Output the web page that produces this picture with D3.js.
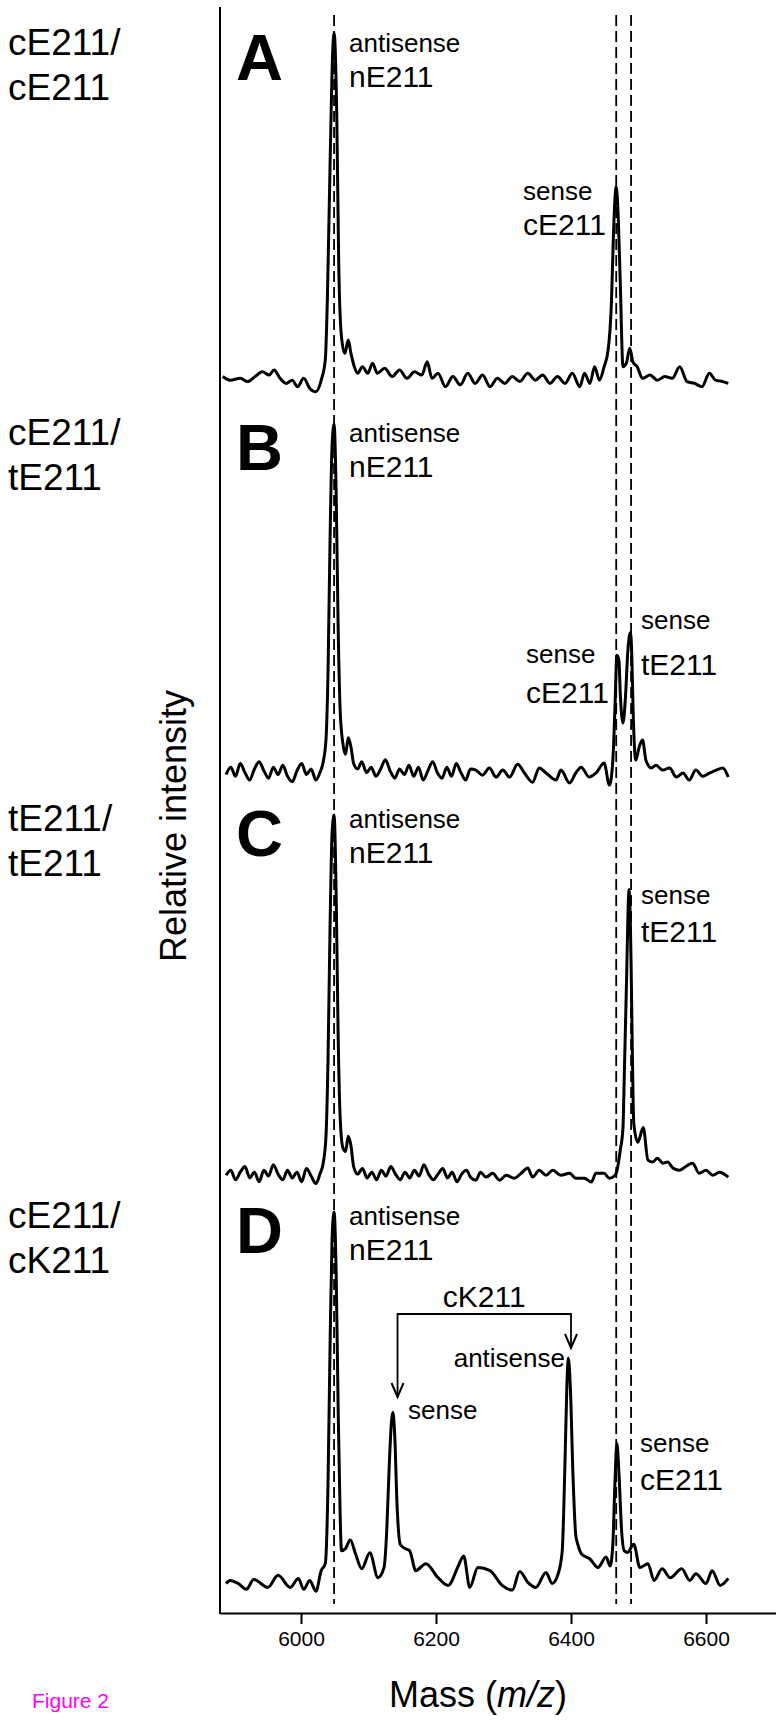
<!DOCTYPE html>
<html>
<head>
<meta charset="utf-8">
<script src="https://cdn.jsdelivr.net/npm/d3@7"></script>
<style>
    body { margin: 0; background: #fff; }
    svg text { font-family: "Liberation Sans", Arial, Helvetica, sans-serif; fill: #000; }
    .axis path, .axis line { stroke: #000; stroke-width: 2; }
    .axis text { font-size: 21px; }
    .spectrum { fill: none; stroke: #000; stroke-width: 3; stroke-linejoin: round; }
    .guide { stroke: #000; stroke-width: 1.8; stroke-dasharray: 11, 5; }
</style>
</head>
<body>
<div id="chart"></div>
<script>

// ---- data ----
const panelLetters = ["A", "B", "C", "D"];
const genotypes = [["cE211/", "cE211"], ["cE211/", "tE211"], ["tE211/", "tE211"], ["cE211/", "cK211"]];
const massTicks = [6000, 6200, 6400, 6600];
const guideMasses = [6049, 6467, 6489];
const peakLabels = [
    [["antisense", "nE211"], ["sense", "cE211"]],
    [["antisense", "nE211"], ["sense", "cE211"], ["sense", "tE211"]],
    [["antisense", "nE211"], ["sense", "tE211"]],
    [["antisense", "nE211"], ["sense", "cE211"]]
];
const cK211Labels = ["cK211", "sense", "antisense"];

// [mass, relative intensity] per panel
const spectrumA = [[5884,5.1],[5895,4.1],[5910,4.6],[5921,3.7],[5932,5.1],[5943,6.4],[5953,5.5],[5960,6.9],[5969,4.6],[5978,3.2],
    [5987,4.1],[5995,2.3],[6004,4.6],[6013,1.8],[6022,0.9],[6030,4.1],[6036,9.7],[6039,26],[6043,63],[6047,95],[6049,100],[6053,77],
    [6056,35],[6060,16],[6065,11.5],[6070,15.2],[6074,11.5],[6079,7.8],[6084,6],[6091,7.8],[6099,6],[6106,8.8],[6113,6],[6124,7.4],
    [6135,5.1],[6146,6.9],[6157,4.6],[6168,6.4],[6179,5.5],[6187,9.2],[6194,4.6],[6203,6],[6214,2.3],[6225,5.1],[6236,2.8],[6247,6],
    [6258,3.2],[6269,5.5],[6280,2.3],[6291,4.6],[6302,3.2],[6313,5.1],[6324,3.7],[6336,6],[6347,4.1],[6358,5.5],[6369,3.2],[6380,5.1],
    [6391,3.2],[6402,6],[6413,2.3],[6420,6],[6428,3.2],[6435,7.8],[6442,4.1],[6449,7.8],[6455,12.4],[6460,26],[6463,45],[6467,57.5],
    [6470,49],[6473,31],[6477,7.8],[6482,8.8],[6487,12.9],[6492,9],[6498,7.8],[6506,4.6],[6517,5.5],[6528,4.1],[6539,5.1],[6550,4.6],
    [6561,7.8],[6572,3.7],[6583,3.2],[6594,2.3],[6605,6],[6614,4.1],[6625,3.7],[6633,3.2]];

const spectrumB = [[5889,4.5],[5896,6.5],[5903,4],[5910,7.5],[5917,5],[5924,3],[5931,6],[5938,8],[5945,5.5],[5952,3.5],[5959,6.5],
    [5966,4.5],[5973,7],[5980,4],[5987,2.5],[5994,5.5],[6001,7.5],[6008,4.5],[6015,6],[6022,3],[6028,5],[6033,8],[6037,14],[6040,32],
    [6043,68],[6046,94],[6049,100],[6052,82],[6055,45],[6058,22],[6062,13],[6066,10],[6070,14.5],[6074,12],[6078,7.5],[6084,6],[6090,8],
    [6097,5],[6104,6.5],[6111,4],[6118,6],[6125,8.5],[6132,5.5],[6139,3.5],[6146,6],[6153,4.5],[6160,7],[6167,4],[6174,6.5],[6181,3],
    [6188,5.5],[6195,8],[6202,5],[6209,3.5],[6216,6.5],[6223,4],[6230,7.5],[6237,5],[6244,3],[6251,6],[6259,5.7],[6269,4.3],[6279,6.3],
    [6289,3.8],[6299,5.7],[6309,3.8],[6321,7.3],[6331,4.9],[6343,2.4],[6353,6.3],[6363,4.9],[6378,3],[6385,5.7],[6398,2.2],[6407,4.9],
    [6415,6.5],[6427,3.8],[6437,4.9],[6449,7.6],[6457,1.6],[6462,8.4],[6465,22],[6468,37],[6471,35.6],[6473,26.6],[6477,18.5],
    [6481,26.6],[6484,37.5],[6488,43.2],[6490,37.5],[6492,22],[6496,8.4],[6501,12],[6506,13.9],[6511,8.4],[6519,6.3],[6526,7],
    [6536,5.7],[6546,6.3],[6556,3.8],[6566,4.9],[6575,3],[6585,5.7],[6595,4],[6605,4.9],[6615,5.7],[6625,6.3],[6633,3.8]];

const spectrumC = [[5889,4.7],[5896,6],[5903,3.5],[5910,5.5],[5917,7],[5924,4],[5931,5.5],[5938,3],[5945,6],[5952,4.5],[5959,7.5],
    [5966,5],[5973,3.5],[5980,6],[5987,4],[5994,5.5],[6001,3],[6008,6.5],[6015,4.5],[6022,2.5],[6028,5],[6033,8],[6037,15],[6040,35],
    [6043,70],[6046,95],[6049,100],[6052,80],[6055,42],[6058,20],[6062,12],[6066,11],[6070,15],[6074,12.5],[6078,7],[6084,5],
    [6091,6.5],[6098,4],[6105,5.5],[6112,3.5],[6119,6],[6126,4.5],[6133,7],[6140,5],[6147,3.5],[6154,5.5],[6161,4],[6168,6],[6175,4.5],
    [6182,7.5],[6189,5],[6196,3.5],[6203,5],[6210,6.5],[6217,4],[6224,5.5],[6231,3],[6238,5],[6245,6],[6252,4],[6259,3.4],[6266,5.5],
    [6274,4.2],[6284,5.2],[6294,3.4],[6304,4.7],[6316,3.9],[6326,5.2],[6336,6.6],[6343,4.2],[6353,6],[6363,4.7],[6373,6],[6385,4.7],
    [6398,5.2],[6407,3.9],[6420,3.9],[6430,2.9],[6437,5.2],[6449,5.2],[6457,3.9],[6464,4.5],[6467,5.2],[6473,11.3],[6477,17.3],
    [6479,31.5],[6482,54],[6486,80.3],[6489,61],[6491,35.7],[6493,18.4],[6499,13.4],[6507,17.3],[6514,8.7],[6521,8.2],[6528,9.2],
    [6536,7.9],[6543,8.2],[6551,6.6],[6561,6],[6570,7],[6580,7.9],[6590,5.2],[6600,6],[6610,4.7],[6620,5.5],[6633,4.2]];

const spectrumD = [[5889,4.5],[5895,5.3],[5907,4.5],[5919,3],[5930,5.5],[5951,3.5],[5966,6.6],[5984,3.5],[5996,5.8],[6004,3],
    [6013,5.3],[6022,2.5],[6030,7.8],[6036,9.6],[6040,30],[6043,65],[6046,93],[6049,100],[6052,85],[6055,50],[6058,22],[6060,12.9],
    [6066,13.5],[6073,15.7],[6081,12],[6090,8.3],[6102,12.4],[6114,6],[6123,8.6],[6127,18],[6131,36],[6134,46],[6136,48.5],[6139,42],
    [6142,26],[6147,14.6],[6154,13.5],[6161,12.9],[6170,7.8],[6185,9.6],[6203,6],[6218,4],[6233,9],[6241,11.6],[6250,3.5],[6262,8.6],
    [6280,7.8],[6298,4],[6313,2.8],[6324,7.6],[6336,4.8],[6348,3.5],[6363,7.3],[6372,4.5],[6381,7],[6387,12.9],[6391,35],[6394,56],
    [6396,62.5],[6399,55],[6403,32],[6407,17],[6410,14.6],[6416,12],[6428,10.8],[6440,8.6],[6452,11.3],[6458,9],[6462,14.6],[6465,30],
    [6468,40.5],[6471,33],[6475,18],[6479,12.9],[6484,12.5],[6493,14.6],[6502,8.6],[6514,9.6],[6523,5.3],[6535,8.3],[6547,6],
    [6564,8.3],[6576,5.3],[6585,7],[6600,4.5],[6609,7.8],[6621,4],[6633,5.8]];


/* * * * * * * * * * * * * *
*    class MassSpecVis     *
* * * * * * * * * * * * * */

class MassSpecVis {

    constructor(parentElement, spectra) {
        this.parentElement = parentElement;
        this.spectra = spectra;

        this.initVis();
    }

    initVis() {
        let vis = this;

        vis.width = 776;
        vis.height = 1720;
        vis.plotLeft = 220;
        vis.plotTop = 7;
        vis.plotBottom = 1613;

        vis.svg = d3.select("#" + vis.parentElement).append("svg")
            .attr("width", vis.width)
            .attr("height", vis.height);

        // shared mass axis
        vis.x = d3.scaleLinear()
            .domain([5880, 6703.7])
            .range([vis.plotLeft, vis.width]);

        // one intensity scale per stacked panel (0..100 = tallest peak)
        vis.panelZero = [395, 791, 1193, 1601];
        vis.panelTop = [33, 424, 815, 1212];
        vis.y = vis.panelZero.map((z, i) => d3.scaleLinear().domain([0, 100]).range([z, vis.panelTop[i]]));

        // vertical offset of each panel's text block relative to panel A
        vis.textShift = [0, 390, 776, 1173];

        vis.drawAxes();
        vis.drawGuides();
        vis.drawSpectra();
        vis.drawLabels();
    }

    drawAxes() {
        let vis = this;

        vis.xAxis = d3.axisBottom(vis.x)
            .tickValues(massTicks)
            .tickSize(11)
            .tickSizeOuter(0)
            .tickPadding(7)
            .tickFormat(d3.format("d"));

        vis.svg.append("g")
            .attr("class", "x-axis axis")
            .attr("transform", "translate(0," + vis.plotBottom + ")")
            .call(vis.xAxis);

        vis.svg.append("line")
            .attr("class", "y-axis")
            .attr("x1", vis.plotLeft).attr("x2", vis.plotLeft)
            .attr("y1", vis.plotTop).attr("y2", vis.plotBottom + 1)
            .attr("stroke", "#000")
            .attr("stroke-width", 2);

        vis.svg.append("text")
            .attr("transform", "translate(173, 826) rotate(-90)")
            .attr("text-anchor", "middle")
            .attr("dominant-baseline", "central")
            .style("font-size", "36px")
            .text("Relative intensity");

        let xLabel = vis.svg.append("text")
            .attr("x", 478)
            .attr("y", 1707)
            .attr("text-anchor", "middle")
            .style("font-size", "36px");
        xLabel.append("tspan").text("Mass (");
        xLabel.append("tspan").style("font-style", "italic").text("m/z");
        xLabel.append("tspan").text(")");

        vis.svg.append("text")
            .attr("x", 32)
            .attr("y", 1708)
            .style("font-size", "21px")
            .style("fill", "#ff00ff")
            .text("Figure 2");
    }

    drawGuides() {
        let vis = this;

        vis.svg.selectAll(".guide")
            .data(guideMasses)
            .enter().append("line")
            .attr("class", "guide")
            .attr("x1", d => vis.x(d))
            .attr("x2", d => vis.x(d))
            .attr("y1", 15)
            .attr("y2", 1604);
    }

    drawSpectra() {
        let vis = this;

        vis.spectra.forEach((spec, i) => {
            let line = d3.line()
                .x(d => vis.x(d[0]))
                .y(d => vis.y[i](d[1]))
                .curve(d3.curveMonotoneX);

            vis.svg.append("path")
                .datum(spec)
                .attr("class", "spectrum")
                .attr("d", line);
        });
    }

    drawLabels() {
        let vis = this;

        // panel letters and genotype labels
        panelLetters.forEach((letter, i) => {
            let s = vis.textShift[i];
            vis.svg.append("text")
                .attr("x", 236)
                .attr("y", 80 + s)
                .style("font-size", "65px")
                .style("font-weight", "bold")
                .text(letter);

            genotypes[i].forEach((g, j) => {
                vis.svg.append("text")
                    .attr("x", 8)
                    .attr("y", 55 + s + j * 45)
                    .style("font-size", "37px")
                    .text(g);
            });
        });

        // [x, first baseline, second baseline] of each peak label
        let labelPos = [
            [[349, 52, 87], [523, 200, 235]],
            [[349, 442, 477], [526, 663, 703], [641, 629, 675]],
            [[349, 828, 863], [641, 904, 942]],
            [[349, 1225, 1260], [640, 1452, 1490]]
        ];

        peakLabels.forEach((panel, i) => {
            panel.forEach((lab, j) => {
                let p = labelPos[i][j];
                vis.svg.append("text")
                    .attr("x", p[0]).attr("y", p[1])
                    .style("font-size", "26px")
                    .text(lab[0]);
                vis.svg.append("text")
                    .attr("x", p[0]).attr("y", p[2])
                    .style("font-size", "30px")
                    .text(lab[1]);
            });
        });

        // cK211 bracket in panel D
        let xl = vis.x(6143), xr = vis.x(6400);
        let yBar = 1314, yl = 1397, yr = 1348;

        vis.svg.append("path")
            .attr("d", `M${xl},${yl} V${yBar} H${xr} V${yr}`)
            .attr("fill", "none")
            .attr("stroke", "#000")
            .attr("stroke-width", 1.8);

        [[xl, yl], [xr, yr]].forEach(a => {
            vis.svg.append("path")
                .attr("d", `M${a[0] - 6},${a[1] - 14} L${a[0]},${a[1]} L${a[0] + 6},${a[1] - 14}`)
                .attr("fill", "none")
                .attr("stroke", "#000")
                .attr("stroke-width", 2);
        });

        vis.svg.append("text")
            .attr("x", (xl + xr) / 2)
            .attr("y", 1307)
            .attr("text-anchor", "middle")
            .style("font-size", "30px")
            .text(cK211Labels[0]);

        vis.svg.append("text")
            .attr("x", 408).attr("y", 1419)
            .style("font-size", "26px")
            .text(cK211Labels[1]);

        vis.svg.append("text")
            .attr("x", 565).attr("y", 1367)
            .attr("text-anchor", "end")
            .style("font-size", "26px")
            .text(cK211Labels[2]);
    }
}

new MassSpecVis("chart", [spectrumA, spectrumB, spectrumC, spectrumD]);

</script>
</body>
</html>
